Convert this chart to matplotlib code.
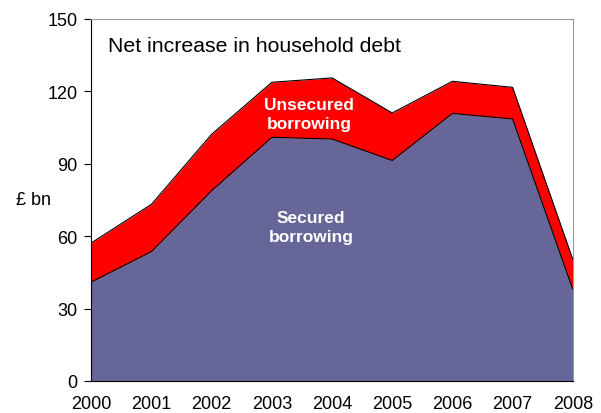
import numpy as np
import matplotlib.pyplot as plt

plt.rcParams['font.family'] = ['Liberation Sans', 'DejaVu Sans']

years = [2000, 2001, 2002, 2003, 2004, 2005, 2006, 2007, 2008]
secured = [41.0, 53.6, 78.8, 100.9, 100.2, 91.3, 110.8, 108.5, 38.0]
total = [57.2, 73.2, 102.2, 123.7, 125.5, 111.0, 124.1, 121.6, 50.4]
yticks = [0, 30, 60, 90, 120, 150]

fig = plt.figure(figsize=(6.01, 4.14), dpi=100)
ax = fig.add_axes([0.152, 0.0773, 0.801, 0.875])

ax.fill_between(years, 0, secured, color='#666699', lw=0)
ax.fill_between(years, secured, total, color='#ff0000', lw=0)
ax.plot(years, secured, color='black', lw=0.8)
ax.plot(years, total, color='black', lw=0.8)

ax.set_xlim(2000, 2008)
ax.set_ylim(0, 150)
ax.set_yticks(yticks)
ax.set_xticks(years)
ax.tick_params(axis='y', direction='out', length=5, labelsize=13, pad=5)
ax.tick_params(axis='x', length=0, labelsize=13, pad=10)

for s in ['top', 'right']:
    ax.spines[s].set_color('#999999')
for s in ['left', 'bottom']:
    ax.spines[s].set_color('black')

ax.text(-0.12, 0.5, '£ bn', transform=ax.transAxes, fontsize=13,
        ha='center', va='center')
ax.text(0.035, 0.925, 'Net increase in household debt', transform=ax.transAxes,
        fontsize=15.3, ha='left', va='center')
ax.text(2003.62, 110.7, 'Unsecured\nborrowing', color='white', fontsize=12.5,
        fontweight='bold', ha='center', va='center', linespacing=1.35)
ax.text(2003.65, 63.7, 'Secured\nborrowing', color='white', fontsize=12.5,
        fontweight='bold', ha='center', va='center', linespacing=1.35)

fig.savefig('out.png', dpi=100)
